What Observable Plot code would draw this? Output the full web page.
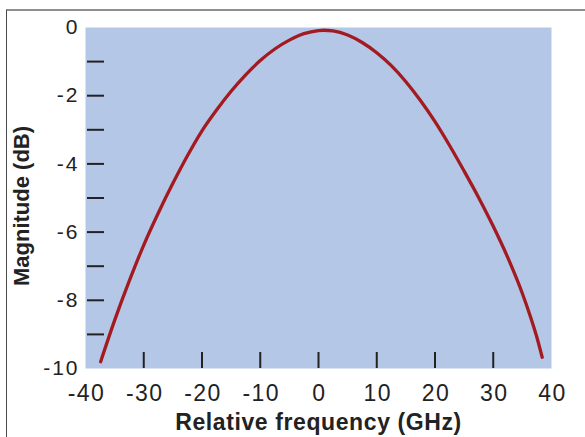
<!DOCTYPE html>
<html>
<head>
<meta charset="utf-8">
<script src="https://cdn.jsdelivr.net/npm/d3@7"></script>
<script src="https://cdn.jsdelivr.net/npm/@observablehq/plot@0.6"></script>
<style>
  html, body { margin: 0; padding: 0; background: #fff; }
  #wrap { position: relative; width: 585px; height: 437px; overflow: hidden; }
  #border { position: absolute; left: 6px; top: 9px; right: 0; bottom: 0;
            border-top: 2px solid #8e8e8e; border-left: 1.5px solid #4a4a4a; pointer-events: none; }
  svg { position: absolute; left: 0; top: 0; }
  g[aria-label="y-axis tick label"] text { letter-spacing: 2px; }
  g[aria-label="x-axis tick label"] text { letter-spacing: 1.5px; }
  g.xtitle text { letter-spacing: 0.6px; }
</style>
</head>
<body>
<div id="wrap"><div id="border"></div></div>
<script>
// Curve (frequency in GHz, magnitude in dB)
const freq = [-37.4, -35, -32.5, -30, -27.5, -25, -22.5, -20, -17.5, -15, -12.5, -10, -7.5, -5, -2.5, 0, 0.9, 2.5, 5, 7.5, 10, 12.5, 15, 17.5, 20, 22.5, 25, 27.5, 30, 32.5, 35, 36.5, 37.5, 38.4];
const magnitude = [-9.80, -8.59, -7.44, -6.38, -5.44, -4.57, -3.76, -3.03, -2.42, -1.87, -1.39, -0.97, -0.63, -0.37, -0.18, -0.09, -0.08, -0.10, -0.22, -0.44, -0.74, -1.12, -1.59, -2.14, -2.76, -3.46, -4.21, -4.99, -5.83, -6.75, -7.80, -8.54, -9.09, -9.67];

const xLabels = [-40, -30, -20, -10, 0, 10, 20, 30, 40];
const xTicks = [-30, -20, -10, 0, 10, 20, 30];
const yLabels = [0, -2, -4, -6, -8, -10];
const yTicks = [-1, -2, -3, -4, -5, -6, -7, -8, -9];

const data = freq.map((f, i) => ({f, m: magnitude[i]}));

const chart = Plot.plot({
  width: 585,
  height: 437,
  marginLeft: 85,
  marginRight: 34,
  marginTop: 27,
  marginBottom: 69,
  style: {fontFamily: "'Liberation Sans', Arial, sans-serif", background: "transparent", overflow: "visible"},
  x: {domain: [-40, 40]},
  y: {domain: [-10, 0]},
  marks: [
    Plot.frame({fill: "#b4c7e6", stroke: null}),
    Plot.axisY(yTicks, {tickSize: -17, dx: 2, text: null, label: null, stroke: "#222", strokeWidth: 2}),
    Plot.axisX(xTicks, {tickSize: -16, text: null, label: null, stroke: "#222", strokeWidth: 2}),
    Plot.axisY(yLabels, {tickSize: 0, tickPadding: 6, fontSize: 21, fill: "#222", label: null, tickFormat: d => String(d)}),
    Plot.axisX(xLabels, {tickSize: 0, tickPadding: 16, dx: 1, fontSize: 23, fill: "#222", label: null, tickFormat: d => String(d)}),
    Plot.line(data, {x: "f", y: "m", stroke: "#a31a20", strokeWidth: 3.3, curve: "monotone-x"}),
    Plot.text(["Relative frequency (GHz)"], {frameAnchor: "bottom", dy: 61, fontSize: 23, fontWeight: "bold", fill: "#222", text: d => d, className: "xtitle"}),
    Plot.text(["Magnitude (dB)"], {frameAnchor: "left", textAnchor: "middle", dx: -64, dy: 8, rotate: -90, fontSize: 22, fontWeight: "bold", fill: "#222", text: d => d})
  ]
});
document.getElementById("wrap").prepend(chart);
</script>
</body>
</html>
